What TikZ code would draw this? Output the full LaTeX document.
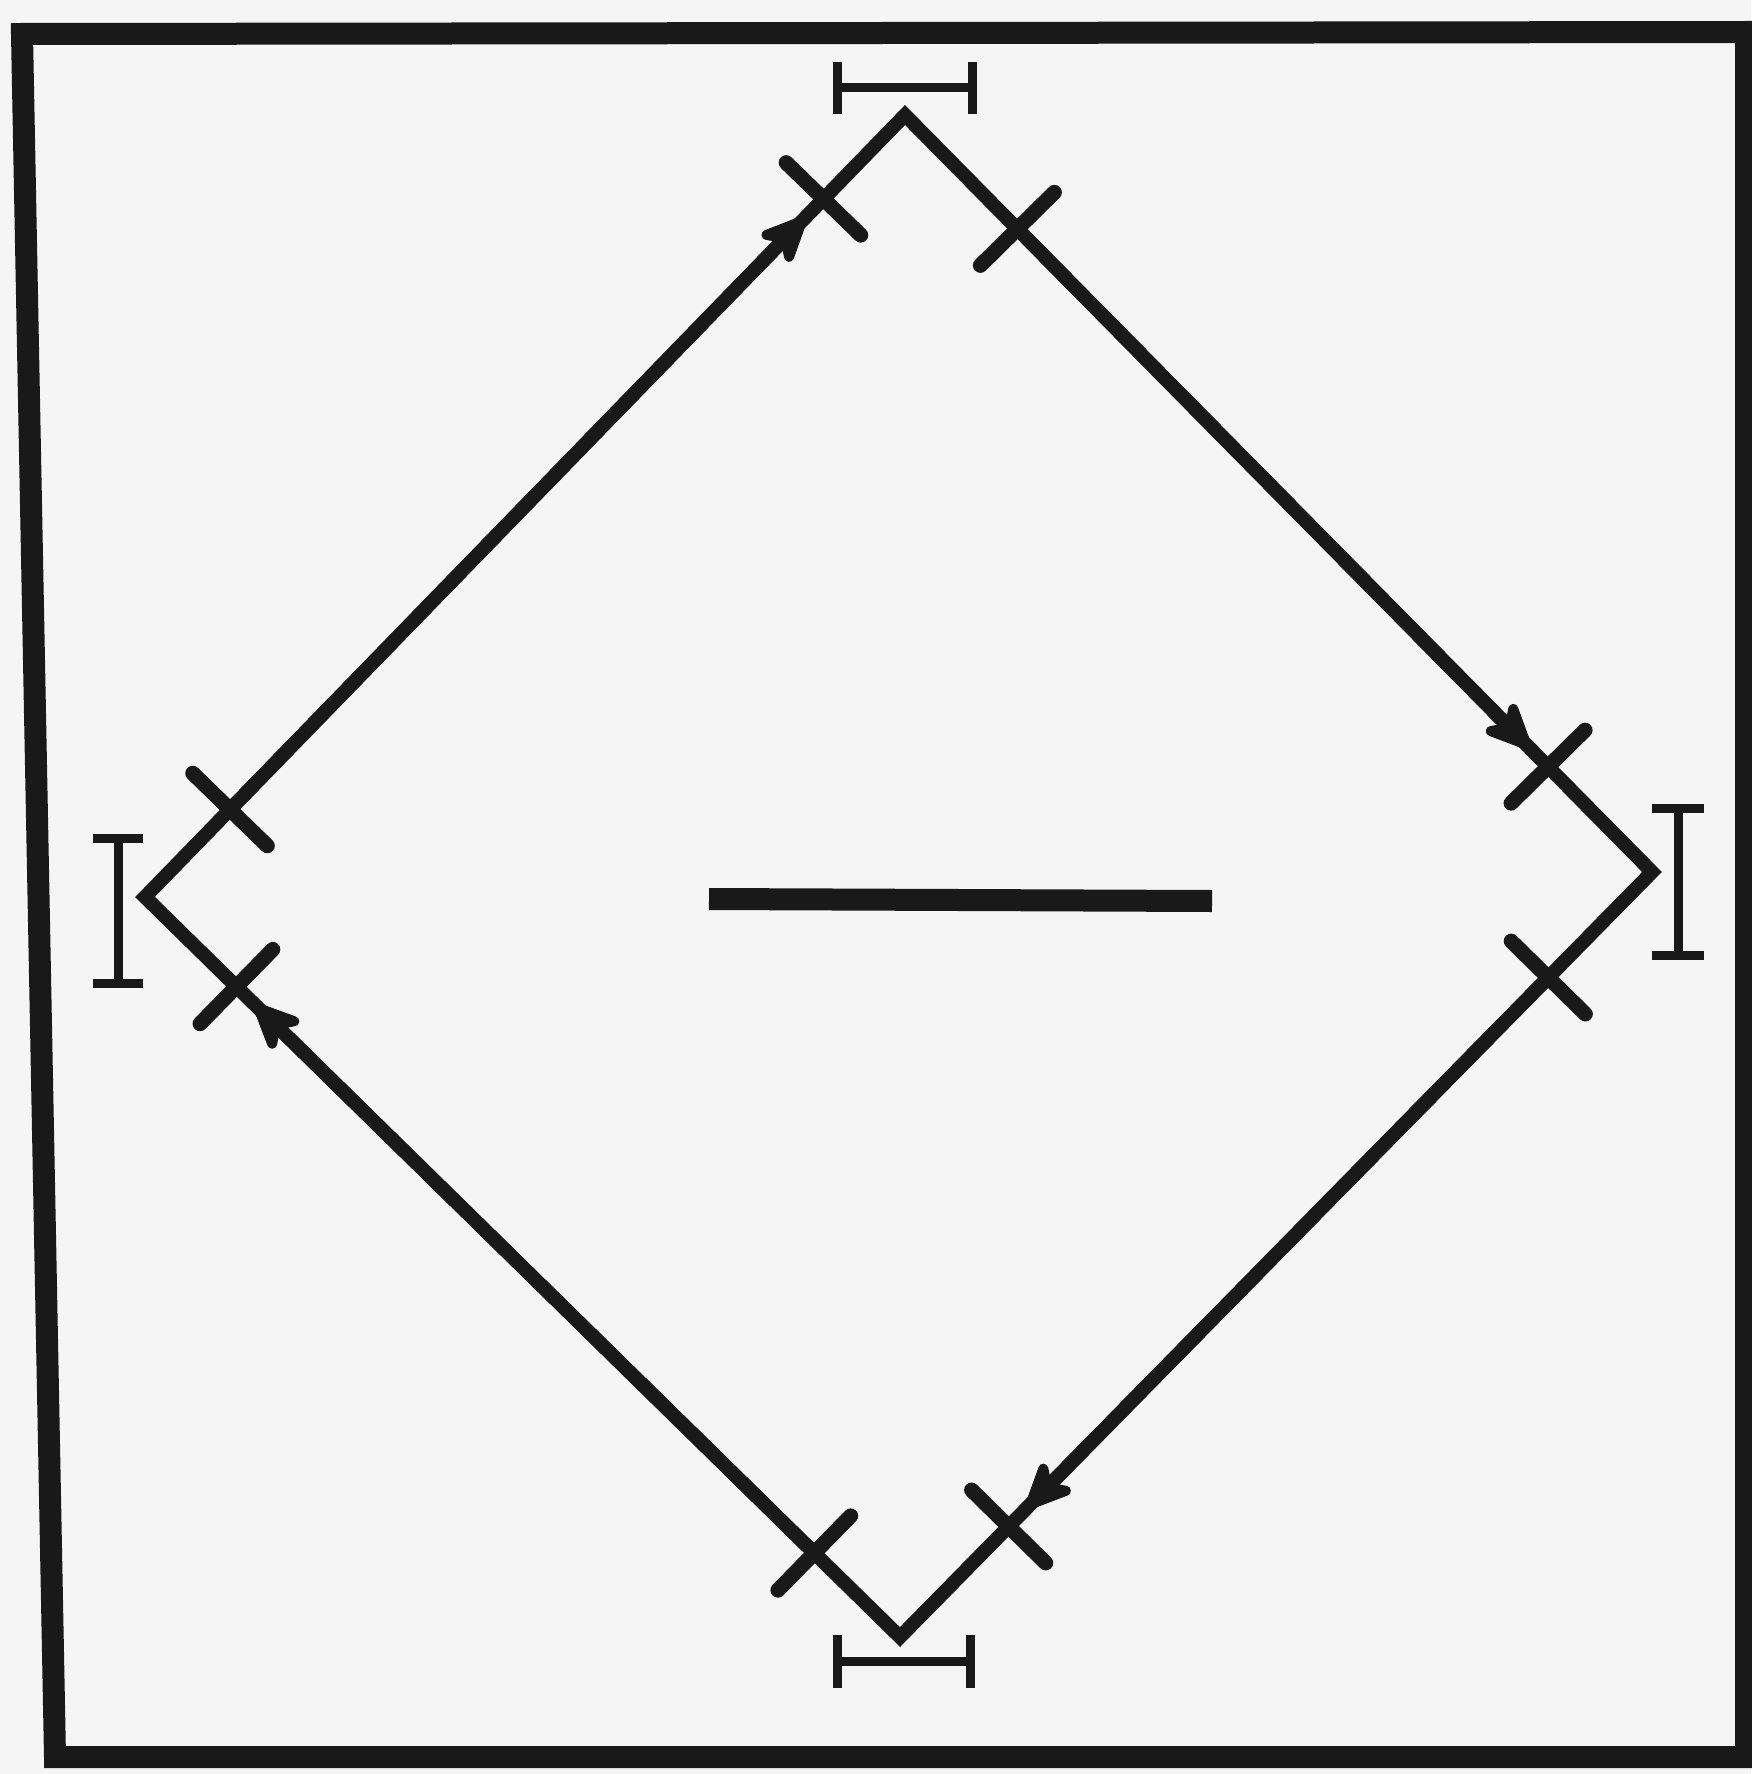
\documentclass[tikz,border=0pt]{standalone}
\usetikzlibrary{calc,arrows.meta}
\begin{document}
\begin{tikzpicture}[x=1pt,y=-1pt,
  ink/.style={draw=black!90},
  frameline/.style={ink,line width=22pt,line join=miter},
  edgeline/.style={ink,line width=14pt,line join=miter},
  flowarrow/.style={ink,line width=14pt,-{Stealth[length=60pt,width=54pt,inset=18pt,line width=10pt,round]},shorten >=26pt},
  tickline/.style={ink,line width=15pt,line cap=round},
  dimline/.style={ink,line width=9pt},
  centerbar/.style={ink,line width=22pt}]
\useasboundingbox (0,0) rectangle (1751,1774);
\fill[black!4] (0,0) rectangle (1751,1774);
% frame
\draw[frameline] (22,34) -- (1746,32) -- (1746,1757) -- (55,1757) -- cycle;
% diamond vertices
\coordinate (vT) at (905,115);
\coordinate (vR) at (1652,872);
\coordinate (vB) at (900,1637);
\coordinate (vL) at (145,897);
% tick positions, on the edges
\coordinate (tTL) at ($(vT)!117pt!(vL)$);
\coordinate (tTR) at ($(vT)!160pt!(vR)$);
\coordinate (tRU) at ($(vR)!148pt!(vT)$);
\coordinate (tRL) at ($(vR)!148pt!(vB)$);
\coordinate (tBR) at ($(vB)!155pt!(vR)$);
\coordinate (tBL) at ($(vB)!120pt!(vL)$);
\coordinate (tLL) at ($(vL)!128pt!(vB)$);
\coordinate (tLU) at ($(vL)!122pt!(vT)$);
% diamond outline
\draw[edgeline] (vT) -- (vR) -- (vB) -- (vL) -- cycle;
% flow arrows
\draw[flowarrow] (tLU) -- (tTL);
\draw[flowarrow] (tTR) -- (tRU);
\draw[flowarrow] (tRL) -- (tBR);
\draw[flowarrow] (tBL) -- (tLL);
% cross ticks
\foreach \t/\v in {tTL/vT, tTR/vT, tRU/vR, tRL/vR, tBR/vB, tBL/vB, tLL/vL, tLU/vL}
  \draw[tickline] ($(\t)!52pt!90:(\v)$) -- ($(\t)!52pt!-90:(\v)$);
% dimension markers
\draw[dimline] (837,62) -- (837,114) (837,88) -- (972,88) (972,62) -- (972,114);
\draw[dimline] (837,1635) -- (837,1688) (837,1661) -- (970,1661) (970,1635) -- (970,1688);
\draw[dimline] (93,838) -- (143,838) (118,838) -- (118,983) (93,983) -- (143,983);
\draw[dimline] (1652,808) -- (1704,808) (1678,808) -- (1678,955) (1652,955) -- (1704,955);
% centre bar
\draw[centerbar] (709,899) -- (1212,901);
\end{tikzpicture}
\end{document}
